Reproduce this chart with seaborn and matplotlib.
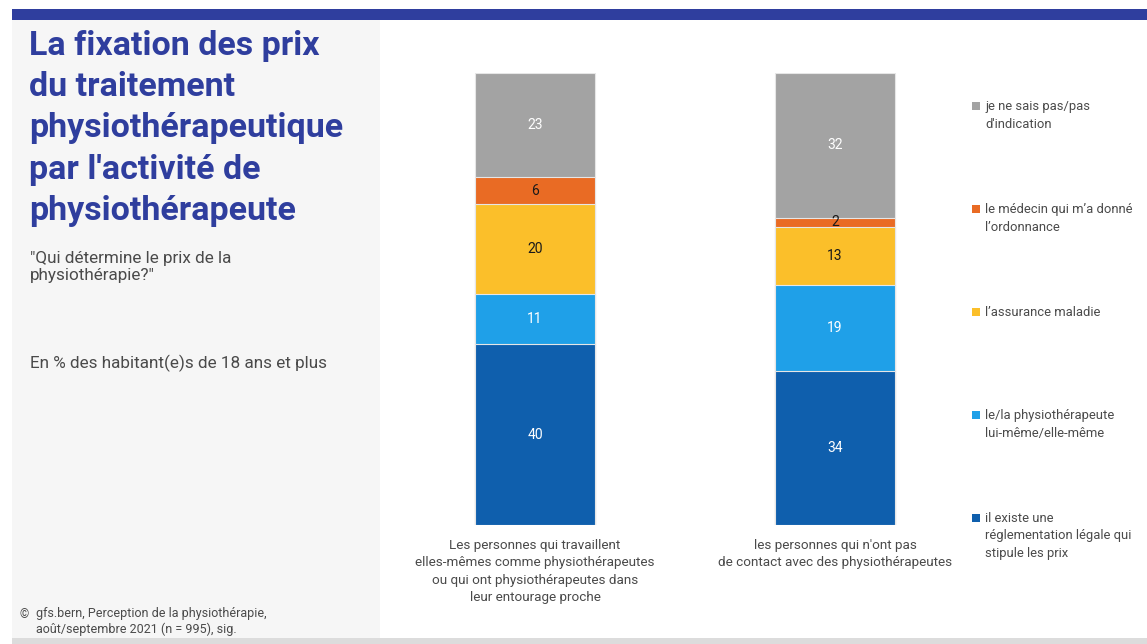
import numpy as np
import pandas as pd
import matplotlib
matplotlib.use("Agg")
import matplotlib.pyplot as plt
from matplotlib.patches import Rectangle
import seaborn as sns

sns.set_style("white")
plt.rcParams["font.family"] = ["Roboto", "DejaVu Sans"]

# Survey answers, bottom to top of each stack
answers = [
    "il existe une\nréglementation légale qui\nstipule les prix",
    "le/la physiothérapeute\nlui-même/elle-même",
    "l’assurance maladie",
    "le médecin qui m’a donné\nl’ordonnance",
    "je ne sais pas/pas\nd'indication",
]
groups = [
    "Les personnes qui travaillent\nelles-mêmes comme physiothérapeutes\nou qui ont physiothérapeutes dans\nleur entourage proche",
    "les personnes qui n'ont pas\nde contact avec des physiothérapeutes",
]
share_contact = [40, 11, 20, 6, 23]
share_no_contact = [34, 19, 13, 2, 32]

colors = ["#0f5fad", "#1fa0e8", "#fbbf2a", "#e96b24", "#a3a3a3"]
label_colors = ["white", "white", "#1a1a1a", "#1a1a1a", "white"]

W, H = 1147, 644
fig = plt.figure(figsize=(W / 100, H / 100), dpi=100)
fig.patch.set_facecolor("white")

def fx(px):
    return px / W

def fy(py):
    return 1 - py / H

# Header band, side panel and bottom strip
fig.add_artist(Rectangle((fx(12), fy(20)), fx(W - 12), 11 / H, transform=fig.transFigure,
                         color="#2f3e9e", lw=0, zorder=0))
fig.add_artist(Rectangle((fx(12), fy(638)), fx(368), 618 / H, transform=fig.transFigure,
                         color="#f6f6f6", lw=0, zorder=0))
fig.add_artist(Rectangle((fx(12), 0), fx(W - 12), 6 / H, transform=fig.transFigure,
                         color="#dcdcdc", lw=0, zorder=0))

# Title and intro texts
fig.text(fx(29), fy(30), "La fixation des prix\ndu traitement\nphysiothérapeutique\npar l'activité de\nphysiothérapeute",
         ha="left", va="top", fontsize=24.5, fontweight="bold", color="#2f3e9e", linespacing=1.37)
fig.text(fx(30), fy(251), "\"Qui détermine le prix de la\nphysiothérapie?\"", ha="left", va="top",
         fontsize=12.3, color="#4a4a4a", linespacing=1.2)
fig.text(fx(30), fy(355), "En % des habitant(e)s de 18 ans et plus", ha="left", va="top",
         fontsize=12.3, color="#4a4a4a")
fig.text(fx(20), fy(608), "©", ha="left", va="top", fontsize=8.5, color="#4a4a4a")
fig.text(fx(36), fy(607), "gfs.bern, Perception de la physiothérapie,\naoût/septembre 2021 (n = 995), sig.",
         ha="left", va="top", fontsize=9, color="#4a4a4a", linespacing=1.25)

# Stacked bars
ax = fig.add_axes([fx(385), fy(525), fx(600), 452 / H])
ax.set_facecolor("none")

data = pd.DataFrame({
    "group": np.repeat(groups, len(answers)),
    "answer": answers * len(groups),
    "value": share_contact + share_no_contact,
    "level": list(range(len(answers))) * len(groups),
})
data["top"] = data.groupby("group")["value"].cumsum()
data["mid"] = data["top"] - data["value"] / 2

for lvl in reversed(range(len(answers))):
    layer = data[data["level"] == lvl]
    sns.barplot(data=layer, x="group", y="top", order=groups, color=colors[lvl],
                width=0.4, edgecolor="#e6e6e6", linewidth=0.8, saturation=1, ax=ax)

for _, row in data.iterrows():
    gi = groups.index(row["group"])
    ax.text(gi, row["mid"], f"{row['value']}", ha="center", va="center",
            fontsize=10, color=label_colors[row["level"]])

ax.set_xlim(-0.5, 1.5)
ax.set_ylim(0, 100)
ax.set_xlabel("")
ax.set_ylabel("")
ax.set_yticks([])
ax.set_xticks(range(len(groups)))
ax.set_xticklabels(groups, fontsize=9.7, color="#4a4a4a", linespacing=1.45)
ax.tick_params(axis="x", length=0, pad=10)
for s in ax.spines.values():
    s.set_visible(False)

# Legend entries, top to bottom
legend_y = [100, 203, 306, 409, 512]
for i, yy in enumerate(legend_y):
    lvl = len(answers) - 1 - i
    fig.add_artist(Rectangle((fx(972), fy(yy + 10)), fx(8), 8 / H, transform=fig.transFigure,
                             color=colors[lvl], lw=0))
    fig.text(fx(985), fy(yy), answers[lvl], ha="left", va="top", fontsize=9.4,
             color="#4a4a4a", linespacing=1.45)

fig.savefig("out.png", dpi=100, facecolor="white")
